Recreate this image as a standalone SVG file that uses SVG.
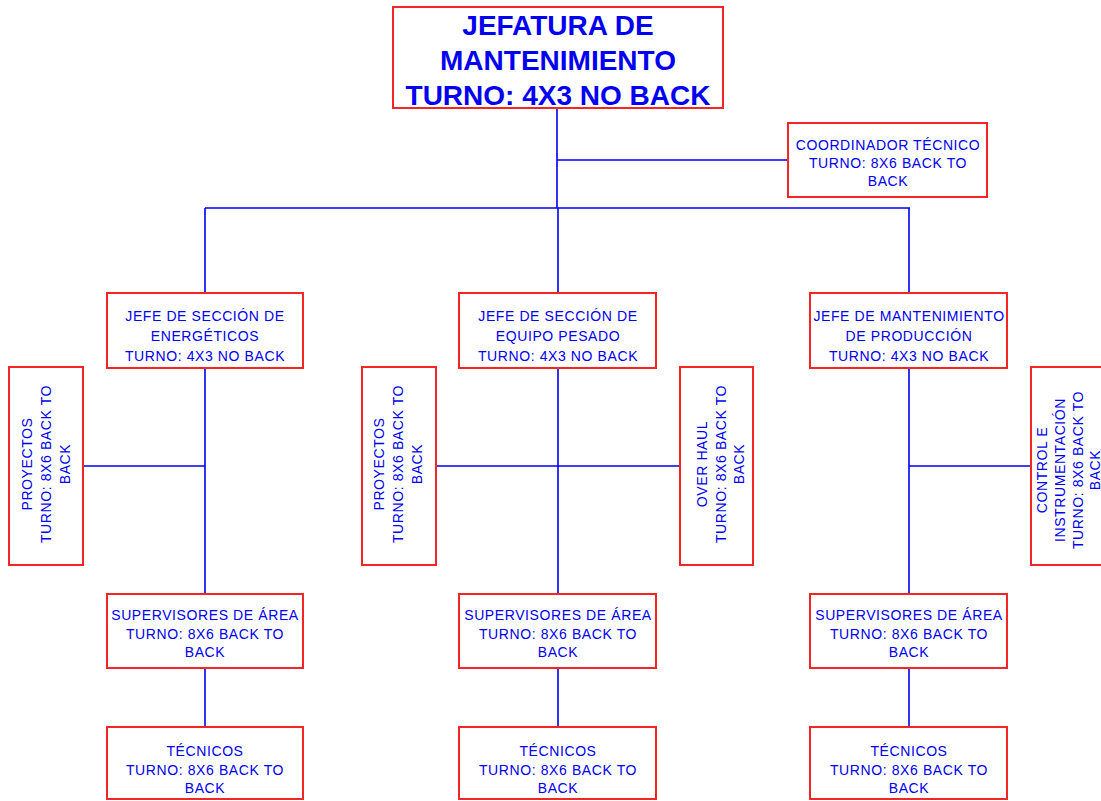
<svg xmlns="http://www.w3.org/2000/svg" width="1101" height="801" viewBox="0 0 1101 801">
<style>
.box{fill:#fff;stroke:#f52525;stroke-width:2}
.t{font-family:"Liberation Sans",Arial,sans-serif;fill:#0000f0;text-anchor:middle;font-size:14px;letter-spacing:0.6px}
.big{font-size:28px;font-weight:bold;letter-spacing:0}
.c{stroke:#0000f0;stroke-width:1.6;fill:none}
</style>
<rect width="1101" height="801" fill="#fff"/>
<g id="connectors">
<path class="c" d="M557 109V208M557 160H788M205 208H910M205 208V293M558 208V293M909 208V293"/>
<path class="c" d="M205 368V594M205 668V727M558 368V594M558 668V727M909 368V594M909 668V727"/>
<path class="c" d="M83 466H205M436 466H680M909 466H1031"/>
</g>
<g id="jefatura">
<rect class="box" x="393" y="7" width="330" height="101"/>
<text class="t big" x="558" y="35">JEFATURA DE</text>
<text class="t big" x="558" y="70">MANTENIMIENTO</text>
<text class="t big" x="558" y="105">TURNO: 4X3 NO BACK</text>
</g>
<g id="coordinador">
<rect class="box" x="788" y="123" width="199" height="74"/>
<text class="t" x="888" y="150">COORDINADOR TÉCNICO</text>
<text class="t" x="888" y="168">TURNO: 8X6 BACK TO</text>
<text class="t" x="888" y="186">BACK</text>
</g>
<g id="jefe-energeticos">
<rect class="box" x="107" y="293" width="196" height="75"/>
<text class="t" x="205" y="321">JEFE DE SECCIÓN DE</text>
<text class="t" x="205" y="341">ENERGÉTICOS</text>
<text class="t" x="205" y="361">TURNO: 4X3 NO BACK</text>
</g>
<g id="jefe-equipo">
<rect class="box" x="459" y="293" width="197" height="75"/>
<text class="t" x="558" y="321">JEFE DE SECCIÓN DE</text>
<text class="t" x="558" y="341">EQUIPO PESADO</text>
<text class="t" x="558" y="361">TURNO: 4X3 NO BACK</text>
</g>
<g id="jefe-produccion">
<rect class="box" x="810" y="293" width="197" height="75"/>
<text class="t" x="909" y="321">JEFE DE MANTENIMIENTO</text>
<text class="t" x="909" y="341">DE PRODUCCIÓN</text>
<text class="t" x="909" y="361">TURNO: 4X3 NO BACK</text>
</g>
<g id="proyectos-1">
<rect class="box" x="9" y="367" width="74" height="198"/>
<g transform="translate(46,464) rotate(-90)">
<text class="t" x="0" y="-14">PROYECTOS</text>
<text class="t" x="0" y="5">TURNO: 8X6 BACK TO</text>
<text class="t" x="0" y="24">BACK</text>
</g>
</g>
<g id="proyectos-2">
<rect class="box" x="362" y="367" width="74" height="198"/>
<g transform="translate(399,464) rotate(-90)">
<text class="t" x="0" y="-15">PROYECTOS</text>
<text class="t" x="0" y="4">TURNO: 8X6 BACK TO</text>
<text class="t" x="0" y="23">BACK</text>
</g>
</g>
<g id="overhaul">
<rect class="box" x="680" y="367" width="73" height="198"/>
<g transform="translate(716,464) rotate(-90)">
<text class="t" x="0" y="-9">OVER HAUL</text>
<text class="t" x="0" y="10">TURNO: 8X6 BACK TO</text>
<text class="t" x="0" y="28">BACK</text>
</g>
</g>
<g id="control">
<rect class="box" x="1031" y="367" width="80" height="198"/>
<g transform="translate(1031,470) rotate(-90)">
<text class="t" x="0" y="16">CONTROL E</text>
<text class="t" x="0" y="34">INSTRUMENTACIÓN</text>
<text class="t" x="0" y="52">TURNO: 8X6 BACK TO</text>
<text class="t" x="0" y="69">BACK</text>
</g>
</g>
<g id="supervisores-1">
<rect class="box" x="107" y="594" width="196" height="74"/>
<text class="t" x="205" y="620">SUPERVISORES DE ÁREA</text>
<text class="t" x="205" y="639">TURNO: 8X6 BACK TO</text>
<text class="t" x="205" y="657">BACK</text>
</g>
<g id="supervisores-2">
<rect class="box" x="459" y="594" width="197" height="74"/>
<text class="t" x="558" y="620">SUPERVISORES DE ÁREA</text>
<text class="t" x="558" y="639">TURNO: 8X6 BACK TO</text>
<text class="t" x="558" y="657">BACK</text>
</g>
<g id="supervisores-3">
<rect class="box" x="810" y="594" width="197" height="74"/>
<text class="t" x="909" y="620">SUPERVISORES DE ÁREA</text>
<text class="t" x="909" y="639">TURNO: 8X6 BACK TO</text>
<text class="t" x="909" y="657">BACK</text>
</g>
<g id="tecnicos-1">
<rect class="box" x="107" y="727" width="196" height="72"/>
<text class="t" x="205" y="756">TÉCNICOS</text>
<text class="t" x="205" y="775">TURNO: 8X6 BACK TO</text>
<text class="t" x="205" y="793">BACK</text>
</g>
<g id="tecnicos-2">
<rect class="box" x="459" y="727" width="197" height="72"/>
<text class="t" x="558" y="756">TÉCNICOS</text>
<text class="t" x="558" y="775">TURNO: 8X6 BACK TO</text>
<text class="t" x="558" y="793">BACK</text>
</g>
<g id="tecnicos-3">
<rect class="box" x="810" y="727" width="197" height="72"/>
<text class="t" x="909" y="756">TÉCNICOS</text>
<text class="t" x="909" y="775">TURNO: 8X6 BACK TO</text>
<text class="t" x="909" y="793">BACK</text>
</g>
</svg>
